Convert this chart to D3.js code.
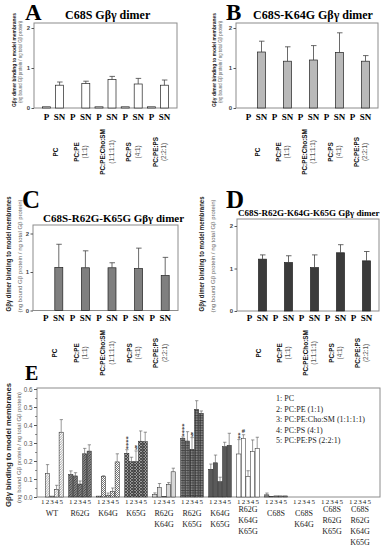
<!DOCTYPE html>
<html>
<head>
<meta charset="utf-8">
<script src="https://cdn.jsdelivr.net/npm/d3@7"></script>
<style>
  body { margin: 0; background: #fff; }
  svg { display: block; }
  .serif { font-family: "Liberation Serif", "Times New Roman", serif; }
  .sans { font-family: "Liberation Sans", Arial, sans-serif; }
</style>
</head>
<body>
<div id="chart"></div>
<script>
// ---- data ----
const lipids = ["PC", "PC:PE", "PC:PE:Cho:SM", "PC:PS", "PC:PE:PS"];
const lipidRatios = ["", "(1:1)", "(1:1:1:1)", "(4:1)", "(2:2:1)"];
const fractions = ["P", "SN"];
const panelTicks = [0, 1, 2];

// A: C68S
const aP = [0.03, 0, 0.03, 0.03, 0.03];
const aSN = [0.57, 0.61, 0.71, 0.6, 0.57];
const aErr = [0.08, 0.06, 0.08, 0.14, 0.13];
// B: C68S-K64G
const bP = [0, 0, 0, 0, 0];
const bSN = [1.4, 1.17, 1.2, 1.39, 1.17];
const bErr = [0.27, 0.36, 0.36, 0.49, 0.14];
// C: C68S-R62G-K65G
const cP = [0, 0, 0, 0, 0];
const cSN = [1.12, 1.11, 1.11, 1.09, 0.91];
const cErr = [0.6, 0.44, 0.13, 0.53, 0.47];
// D: C68S-R62G-K64G-K65G
const dP = [0, 0, 0, 0, 0];
const dSN = [1.22, 1.14, 1.02, 1.37, 1.18];
const dErr = [0.1, 0.16, 0.3, 0.19, 0.22];

// E
const mutants = ["WT", "R62G", "K64G", "K65G", "R62G K64G", "R62G K65G", "K64G K65G",
  "R62G K64G K65G", "C68S", "C68S K64G", "C68S R62G K65G", "C68S R62G K64G K65G"];
const eBars = ["1", "2", "3", "4", "5"];
const eMean = [
  [0, 0.13, 0.005, 0.043, 0.36],
  [0.125, 0.117, 0.072, 0.24, 0.255],
  [0.005, 0.113, 0.01, 0.03, 0.195],
  [0.243, 0.196, 0.196, 0.31, 0.307],
  [0.013, 0.052, 0.004, 0.07, 0.14],
  [0.326, 0.311, 0.265, 0.487, 0.465],
  [0.154, 0.19, 0.085, 0.28, 0.287],
  [0.239, 0.326, 0.113, 0.252, 0.27],
  [0.012, 0.004, 0.006, 0.006, 0.006],
  [0, 0, 0, 0, 0],
  [0, 0, 0, 0, 0],
  [0, 0, 0, 0, 0]
];
const eErr = [
  [0, 0.05, 0, 0.022, 0.07],
  [0.02, 0.018, 0.017, 0.03, 0.035],
  [0, 0.005, 0.012, 0.02, 0.045],
  [0.02, 0.025, 0.06, 0.057, 0.053],
  [0.01, 0.023, 0, 0.01, 0.02],
  [0.008, 0.052, 0.065, 0.048, 0.013],
  [0.029, 0.043, 0.025, 0.024, 0.067],
  [0.08, 0.02, 0.033, 0.065, 0.062],
  [0.01, 0, 0, 0, 0],
  [0, 0, 0, 0, 0],
  [0, 0, 0, 0, 0],
  [0, 0, 0, 0, 0]
];
const eTicks = [0, 0.1, 0.2, 0.3, 0.4, 0.5, 0.6];
const eMinor = [0.05, 0.15, 0.25, 0.35, 0.45, 0.55];
const legendItems = ["1: PC", "2: PC:PE (1:1)", "3: PC:PE:Cho:SM (1:1:1:1)", "4: PC:PS (4:1)", "5: PC:PE:PS (2:2:1)"];
const eMarks = [
  { group: "K65G", bar: "1", symbol: "****" },
  { group: "K65G", bar: "3", symbol: "§" },
  { group: "R62G K65G", bar: "1", symbol: "****" },
  { group: "R62G K65G", bar: "3", symbol: "§" },
  { group: "R62G K64G K65G", bar: "1", symbol: "**" },
  { group: "R62G K64G K65G", bar: "2", symbol: "#" }
];

const yTitle = "Gβγ dimer binding to model membranes";
const yTitleE = "Gβγ binding to model membranes";
const ySub = "(ng bound Gβ protein / ng total Gβ protein)";

// ---- svg ----
const svg = d3.select("#chart").append("svg").attr("width", 386).attr("height", 550);
const defs = svg.append("defs");

//patterns for panel E
function pattern(id, bg, size, paths, stroke, sw) {
  const p = defs.append("pattern").attr("id", id).attr("patternUnits", "userSpaceOnUse")
    .attr("width", size).attr("height", size);
  p.append("rect").attr("width", size).attr("height", size).attr("fill", bg);
  paths.forEach((d) => p.append("path").attr("d", d).attr("stroke", stroke).attr("stroke-width", sw).attr("fill", "none"));
}
pattern("pWT", "#fff", 2.5, ["M0,2.5 L2.5,0", "M-1,1 L1,-1", "M1.5,3.5 L3.5,1.5"], "#666", 0.6);
pattern("pR62G", "#8a8a8a", 2.5, ["M0,2.5 L2.5,0", "M-1,1 L1,-1", "M1.5,3.5 L3.5,1.5"], "#2a2a2a", 0.7);
pattern("pK64G", "#fff", 2, ["M0,0.5 L1,0.5", "M1,1.5 L2,1.5"], "#777", 1);
pattern("pK65G", "#9a9a9a", 3, ["M0,3 L3,0", "M0,0 L3,3"], "#2a2a2a", 0.7);
pattern("pR62GK64G", "#fff", 2, ["M0,1 L2,1"], "#777", 0.6);
pattern("pR62GK65G", "#8a8a8a", 2.5, ["M0,0.5 L2.5,0.5", "M0.5,0 L0.5,2.5"], "#2a2a2a", 0.6);

const groupFills = ["url(#pWT)", "url(#pR62G)", "url(#pK64G)", "url(#pK65G)", "url(#pR62GK64G)",
  "url(#pR62GK65G)", "#5a5a5a", "#ffffff", "#888", "#888", "#888", "#888"];

//rotated axis title helper
let rotText = (x, y, str, size, len, bold, color) => {
  svg.append("text")
    .attr("class", "sans")
    .attr("transform", `translate(${x},${y}) rotate(-90)`)
    .attr("text-anchor", "middle")
    .attr("dominant-baseline", "central")
    .attr("font-size", size)
    .attr("font-weight", bold ? "bold" : "normal")
    .attr("fill", color)
    .attr("textLength", len)
    .attr("lengthAdjust", "spacingAndGlyphs")
    .text(str);
};

const panels = [
  { letter: "A", title: "C68S Gβγ dimer", lx: 25, ly: 19.5, lsize: 23, tx: 65, ty: 18.5, tsize: 12,
    left: 34, right: 177, top: 23, zero: 108, two: 28, labelY: 120, catY: 152,
    axX: 13.5, ax2X: 19.5, axY: 60, axLen: 94, ax2Len: 82, axSize: 5.5, ax2Size: 5,
    fill: "#fff", p: aP, sn: aSN, err: aErr },
  { letter: "B", title: "C68S-K64G Gβγ dimer", lx: 226, ly: 19.5, lsize: 23, tx: 253, ty: 18.5, tsize: 12,
    left: 236, right: 378, top: 23, zero: 108, two: 28, labelY: 120, catY: 152,
    axX: 213.5, ax2X: 220, axY: 60, axLen: 94, ax2Len: 82, axSize: 5.5, ax2Size: 5,
    fill: "#b9b9b9", p: bP, sn: bSN, err: bErr },
  { letter: "C", title: "C68S-R62G-K65G Gβγ dimer", lx: 22, ly: 208, lsize: 25, tx: 43, ty: 222, tsize: 11,
    left: 33, right: 178, top: 225, zero: 310.5, two: 233.5, labelY: 320.5, catY: 353,
    axX: 8.5, ax2X: 19.5, axY: 254, axLen: 115, ax2Len: 113, axSize: 7, ax2Size: 6,
    fill: "#7f7f7f", p: cP, sn: cSN, err: cErr },
  { letter: "D", title: "C68S-R62G-K64G-K65G Gβγ dimer", lx: 226, ly: 208, lsize: 25, tx: 238, ty: 215.5, tsize: 9,
    left: 237, right: 379, top: 219, zero: 311, two: 226, labelY: 320.5, catY: 353,
    axX: 201.5, ax2X: 212.5, axY: 254, axLen: 115, ax2Len: 113, axSize: 7, ax2Size: 6,
    fill: "#3b3b3b", p: dP, sn: dSN, err: dErr }
];

//Panel A-D render
let panelRender = (c) => {
  const x = d3.scaleBand().domain(lipids).range([c.left + 6, c.right - 6]);
  const sub = d3.scalePoint().domain(fractions).range([-6.5, 6.5]);
  const y = d3.scaleLinear().domain([0, 2]).range([c.zero, c.two]);
  const cx = (l) => x(l) + x.bandwidth() / 2;

  svg.append("text").attr("class", "serif").attr("x", c.lx).attr("y", c.ly)
    .attr("font-size", c.lsize).attr("font-weight", "bold").text(c.letter);
  svg.append("text").attr("class", "serif").attr("x", c.tx).attr("y", c.ty)
    .attr("font-size", c.tsize).attr("font-weight", "bold").text(c.title);

  svg.append("rect").attr("x", c.left).attr("y", c.top)
    .attr("width", c.right - c.left).attr("height", c.zero - c.top)
    .attr("fill", "none").attr("stroke", "#8c8c8c").attr("stroke-width", 1);

  const ax = svg.append("g").attr("transform", `translate(${c.left},0)`)
    .call(d3.axisLeft(y).tickValues(panelTicks).tickFormat(d3.format("d")).tickSize(2.5).tickPadding(1.5));
  ax.select(".domain").remove();
  ax.selectAll("line").attr("stroke", "#555");
  ax.selectAll("text").attr("class", "sans").attr("font-size", 6).attr("font-weight", "bold").attr("fill", "#444");

  const rows = lipids.flatMap((l, i) => [
    { l: l, f: "P", v: c.p[i], e: 0 },
    { l: l, f: "SN", v: c.sn[i], e: c.err[i] }
  ]);

  svg.append("g").selectAll("rect").data(rows.filter((d) => d.v > 0)).enter().append("rect")
    .attr("x", (d) => cx(d.l) + sub(d.f) - 4)
    .attr("width", 8)
    .attr("y", (d) => y(d.v))
    .attr("height", (d) => c.zero - y(d.v))
    .attr("fill", c.fill)
    .attr("stroke", "#222")
    .attr("stroke-width", 0.7);

  const eb = svg.append("g").attr("stroke", "#444").attr("stroke-width", 0.8);
  rows.filter((d) => d.e > 0).forEach((d) => {
    const xx = cx(d.l) + sub(d.f);
    eb.append("line").attr("x1", xx).attr("x2", xx).attr("y1", y(d.v)).attr("y2", y(d.v + d.e));
    eb.append("line").attr("x1", xx - 2.5).attr("x2", xx + 3).attr("y1", y(d.v + d.e)).attr("y2", y(d.v + d.e));
  });

  //P / SN labels
  svg.append("g").selectAll("text").data(rows).enter().append("text")
    .attr("class", "serif")
    .attr("x", (d) => cx(d.l) + sub(d.f))
    .attr("y", c.labelY)
    .attr("text-anchor", "middle")
    .attr("font-size", 9)
    .attr("font-weight", "bold")
    .text((d) => d.f);

  //lipid labels (rotated)
  lipids.forEach((l, i) => {
    const hasSub = lipidRatios[i] !== "";
    svg.append("text").attr("class", "sans")
      .attr("transform", `translate(${cx(l) + (hasSub ? -3 : 2)},${c.catY}) rotate(-90) scale(0.85,1)`)
      .attr("text-anchor", "middle").attr("dominant-baseline", "central")
      .attr("font-size", 7.5).attr("font-weight", "bold").attr("fill", "#111")
      .text(l);
    if (hasSub) {
      svg.append("text").attr("class", "sans")
        .attr("transform", `translate(${cx(l) + 5.5},${c.catY}) rotate(-90)`)
        .attr("text-anchor", "middle").attr("dominant-baseline", "central")
        .attr("font-size", 6.3).attr("fill", "#555")
        .text(lipidRatios[i]);
    }
  });

  rotText(c.axX, c.axY, yTitle, c.axSize, c.axLen, true, "#222");
  rotText(c.ax2X, c.axY + 2, ySub, c.ax2Size, c.ax2Len, false, "#666");
};

panels.forEach(panelRender);

//Panel E render
let panelERender = () => {
  const left = 37, right = 380, top = 388, zero = 497;
  const x = d3.scaleBand().domain(mutants).range([38, 374]);
  const sub = d3.scaleBand().domain(eBars).range([-11.5, 11.5]);
  const y = d3.scaleLinear().domain([0, 0.6]).range([zero, 389]);
  const bx = (g, b) => x(g) + x.bandwidth() / 2 + sub(b);

  svg.append("text").attr("class", "serif").attr("x", 25).attr("y", 380)
    .attr("font-size", 20).attr("font-weight", "bold").text("E");

  svg.append("rect").attr("x", left).attr("y", top).attr("width", right - left).attr("height", zero - top)
    .attr("fill", "none").attr("stroke", "#8c8c8c").attr("stroke-width", 1);

  const ax = svg.append("g").attr("transform", `translate(${left},0)`)
    .call(d3.axisLeft(y).tickValues(eTicks).tickFormat(d3.format(".1f")).tickSize(3).tickPadding(1.5));
  ax.select(".domain").remove();
  ax.selectAll("line").attr("stroke", "#555");
  ax.selectAll("text").attr("class", "sans").attr("font-size", 6.3).attr("fill", "#555");
  const mn = svg.append("g").attr("transform", `translate(${left},0)`)
    .call(d3.axisLeft(y).tickValues(eMinor).tickFormat("").tickSize(1.8));
  mn.select(".domain").remove();
  mn.selectAll("line").attr("stroke", "#777");

  const rows = mutants.flatMap((g, gi) => eBars.map((b, bi) => ({
    g: g, gi: gi, b: b, v: eMean[gi][bi], e: eErr[gi][bi]
  })));

  svg.append("g").selectAll("rect").data(rows.filter((d) => d.v > 0)).enter().append("rect")
    .attr("x", (d) => x(d.g) + x.bandwidth() / 2 + sub(d.b) + 0.2)
    .attr("width", sub.bandwidth() - 0.4)
    .attr("y", (d) => y(d.v))
    .attr("height", (d) => zero - y(d.v))
    .attr("fill", (d) => groupFills[d.gi])
    .attr("stroke", "#222")
    .attr("stroke-width", 0.5);

  const eb = svg.append("g").attr("stroke", "#555").attr("stroke-width", 0.6);
  rows.filter((d) => d.e > 0).forEach((d) => {
    const xx = bx(d.g, d.b) + sub.bandwidth() / 2;
    eb.append("line").attr("x1", xx).attr("x2", xx).attr("y1", y(d.v)).attr("y2", y(d.v + d.e));
    eb.append("line").attr("x1", xx - 1.5).attr("x2", xx + 1.8).attr("y1", y(d.v + d.e)).attr("y2", y(d.v + d.e));
  });

  //significance marks: stars run upward as one rotated text
  eMarks.forEach((m) => {
    const gi = mutants.indexOf(m.group);
    const bi = eBars.indexOf(m.bar);
    const xx = bx(m.group, m.bar) + sub.bandwidth() / 2;
    const yTop = y(eMean[gi][bi] + eErr[gi][bi]);
    const stars = m.symbol.startsWith("*");
    if (stars) {
      svg.append("text").attr("class", "serif")
        .attr("transform", `translate(${xx + 0.8},${yTop - 0.5}) rotate(-90)`)
        .attr("text-anchor", "start").attr("dominant-baseline", "central")
        .attr("font-size", 6.5).attr("font-weight", "bold").attr("fill", "#333")
        .text(m.symbol);
    } else {
      svg.append("text").attr("class", "serif")
        .attr("x", xx).attr("y", yTop - 1.5)
        .attr("text-anchor", "middle").attr("font-size", 6.5)
        .attr("font-weight", "bold").attr("fill", "#333")
        .text(m.symbol);
    }
  });

  //1 2 3 4 5 under bars
  svg.append("g").selectAll("text").data(rows).enter().append("text")
    .attr("class", "serif")
    .attr("x", (d) => bx(d.g, d.b) + sub.bandwidth() / 2)
    .attr("y", 503.5)
    .attr("text-anchor", "middle")
    .attr("font-size", 7)
    .attr("fill", "#222")
    .text((d) => d.b);

  //mutant names
  mutants.forEach((g) => {
    const lines = g.split(" ");
    const y0 = lines.length > 2 ? 512 : 516;
    const t = svg.append("text").attr("class", "serif")
      .attr("text-anchor", "middle").attr("font-size", 8).attr("fill", "#222");
    lines.forEach((ln, i) => {
      t.append("tspan").attr("x", x(g) + x.bandwidth() / 2).attr("y", y0 + i * 11).text(ln);
    });
  });

  //legend
  svg.append("g").selectAll("text").data(legendItems).enter().append("text")
    .attr("class", "serif")
    .attr("x", 276)
    .attr("y", (d, i) => 401 + i * 10.5)
    .attr("font-size", 8)
    .attr("fill", "#222")
    .text((d) => d);

  rotText(8.5, 445, yTitleE, 8, 124, true, "#222");
  rotText(18.5, 447.5, ySub, 5.5, 111, false, "#666");
};

panelERender();
</script>
</body>
</html>
